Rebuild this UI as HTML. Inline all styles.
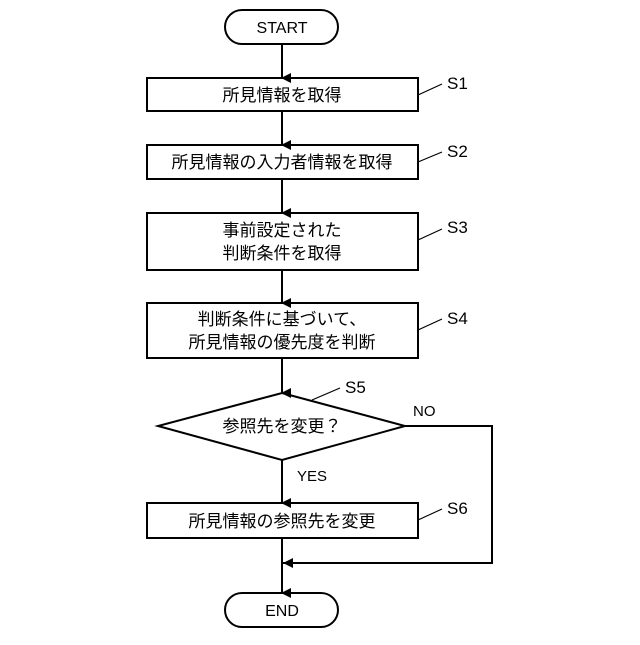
<!DOCTYPE html>
<html><head><meta charset="utf-8"><style>body{margin:0;background:#fff}</style></head><body>
<svg width="640" height="640" viewBox="0 0 640 640" xmlns="http://www.w3.org/2000/svg" font-family="Liberation Sans, Noto Sans CJK JP, sans-serif" fill="none" stroke="#000" stroke-width="2">
<defs><marker id="a" markerWidth="10" markerHeight="10" refX="5" refY="9" orient="auto" markerUnits="userSpaceOnUse"><path d="M0,0 L10,0 L5,10Z" fill="#000" stroke="none"/></marker>
<marker id="l" markerWidth="10" markerHeight="10" refX="9" refY="5" orient="auto" markerUnits="userSpaceOnUse"><path d="M0,0 L10,5 L0,10Z" fill="#000" stroke="none" transform="rotate(180 5 5)"/></marker></defs>
<rect x="225" y="10" width="113" height="34" rx="17"/>
<rect x="147" y="78" width="271" height="33"/>
<rect x="147" y="145" width="271" height="34"/>
<rect x="147" y="213" width="271" height="57"/>
<rect x="147" y="303" width="271" height="55"/>
<path d="M282,393 L405,426 L282,460 L158,426Z"/>
<rect x="147" y="503" width="271" height="35"/>
<rect x="225" y="593" width="113" height="34" rx="17"/>
<line x1="282" y1="44" x2="282" y2="78" marker-end="url(#a)"/>
<line x1="282" y1="111" x2="282" y2="145" marker-end="url(#a)"/>
<line x1="282" y1="179" x2="282" y2="213" marker-end="url(#a)"/>
<line x1="282" y1="270" x2="282" y2="303" marker-end="url(#a)"/>
<line x1="282" y1="358" x2="282" y2="393" marker-end="url(#a)"/>
<line x1="282" y1="460" x2="282" y2="503" marker-end="url(#a)"/>
<line x1="282" y1="538" x2="282" y2="593" marker-end="url(#a)"/>
<polyline points="405,426 492,426 492,563 283,563" />
<path d="M283,563 L293,558 L293,568Z" fill="#000" stroke="none"/>
<g stroke-width="1.2"><line x1="418" y1="95" x2="442" y2="84"/><line x1="418" y1="162" x2="442" y2="152"/><line x1="418" y1="240" x2="442" y2="229"/><line x1="418" y1="330" x2="442" y2="319"/><line x1="312" y1="400" x2="340" y2="388"/><line x1="418" y1="520" x2="442" y2="509"/></g>
<g fill="#000" stroke="none" font-size="17">
<text x="282" y="33" text-anchor="middle" font-size="16">START</text>
<text x="282" y="616" text-anchor="middle" font-size="16">END</text>
<text x="282" y="101" text-anchor="middle">所見情報を取得</text>
<text x="282" y="168" text-anchor="middle">所見情報の入力者情報を取得</text>
<text x="282" y="236" text-anchor="middle">事前設定された</text>
<text x="282" y="259" text-anchor="middle">判断条件を取得</text>
<text x="282" y="325" text-anchor="middle">判断条件に基づいて、</text>
<text x="282" y="348" text-anchor="middle">所見情報の優先度を判断</text>
<text x="282" y="432" text-anchor="middle">参照先を変更？</text>
<text x="282" y="527" text-anchor="middle">所見情報の参照先を変更</text>
<g font-size="17"><text x="447" y="89">S1</text><text x="447" y="157">S2</text><text x="447" y="233">S3</text><text x="447" y="324">S4</text><text x="345" y="393">S5</text><text x="447" y="514">S6</text></g>
<g font-size="15"><text x="413" y="416">NO</text><text x="297" y="481">YES</text></g>
</g>
</svg>
</body></html>
